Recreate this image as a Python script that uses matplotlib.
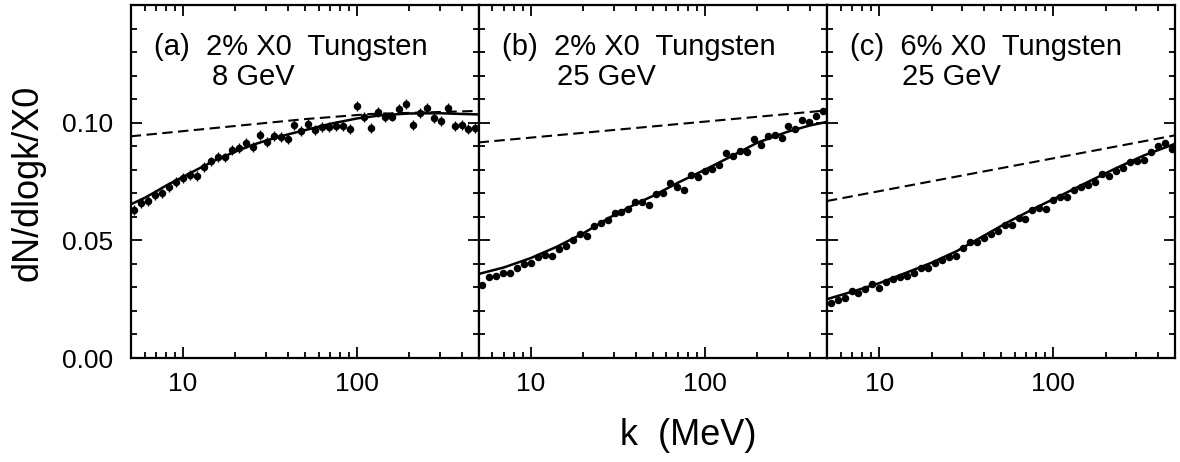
import numpy as np
import matplotlib
matplotlib.use('Agg')
import matplotlib.pyplot as plt
from matplotlib.ticker import FixedLocator, NullFormatter

plt.rcParams['font.family'] = ['Liberation Sans', 'DejaVu Sans']

# photon energy bins (MeV), shared by all three panels
k_bins = [5.25, 5.75, 6.31, 6.92, 7.59, 8.32, 9.12, 10.0, 10.96, 12.02,
          13.18, 14.45, 15.85, 17.38, 19.05, 20.89, 22.91, 25.12, 27.54, 30.20,
          33.11, 36.31, 39.81, 43.65, 47.86, 52.48, 57.54, 63.10, 69.18, 75.86,
          83.18, 91.20, 100.0, 109.6, 120.2, 131.8, 144.5, 158.5, 173.8, 190.5,
          208.9, 229.1, 251.2, 275.4, 302.0, 331.1, 363.1, 398.1, 436.5, 478.6]

# (a) 2% X0 W, 8 GeV
data_a = [0.0630, 0.0660, 0.0668, 0.0694, 0.0699, 0.0725, 0.0748, 0.0765, 0.0776, 0.0774,
          0.0810, 0.0835, 0.0854, 0.0852, 0.0884, 0.0892, 0.0912, 0.0898, 0.0948, 0.0916,
          0.0943, 0.0938, 0.0932, 0.0991, 0.0963, 0.0994, 0.0967, 0.0981, 0.0981, 0.0984,
          0.0986, 0.0972, 0.1072, 0.1024, 0.0979, 0.1047, 0.1024, 0.1026, 0.1060, 0.1080,
          0.0990, 0.1040, 0.1063, 0.1018, 0.1006, 0.1063, 0.0984, 0.0991, 0.0973, 0.0977]
err_a = 0.0021

# (b) 2% X0 W, 25 GeV
data_b = [0.0311, 0.0346, 0.0349, 0.0360, 0.0360, 0.0384, 0.0400, 0.0403, 0.0431, 0.0438,
          0.0435, 0.0463, 0.0477, 0.0502, 0.0526, 0.0520, 0.0559, 0.0573, 0.0587, 0.0618,
          0.0621, 0.0633, 0.0665, 0.0665, 0.0651, 0.0697, 0.0701, 0.0743, 0.0726, 0.0715,
          0.0779, 0.0767, 0.0793, 0.0804, 0.0821, 0.0871, 0.0857, 0.0881, 0.0875, 0.0932,
          0.0903, 0.0942, 0.0949, 0.0934, 0.0987, 0.0973, 0.1013, 0.1001, 0.1027, 0.1048]
err_b = 0.0009

# (c) 6% X0 W, 25 GeV
data_c = [0.0233, 0.0247, 0.0254, 0.0286, 0.0278, 0.0294, 0.0315, 0.0297, 0.0321, 0.0336,
          0.0346, 0.0350, 0.0363, 0.0384, 0.0381, 0.0403, 0.0417, 0.0428, 0.0435, 0.0467,
          0.0495, 0.0491, 0.0509, 0.0528, 0.0540, 0.0566, 0.0566, 0.0594, 0.0590, 0.0630,
          0.0637, 0.0633, 0.0670, 0.0686, 0.0684, 0.0715, 0.0726, 0.0736, 0.0746, 0.0782,
          0.0774, 0.0793, 0.0807, 0.0831, 0.0838, 0.0843, 0.0874, 0.0899, 0.0913, 0.0888]
err_c = 0.0007

# solid curves (calculation), read at a few k values
fit_k_a = [5, 6, 7, 8, 10, 13, 16, 20, 25, 30, 40, 50, 70, 100, 140, 200, 300, 400, 500]
fit_a = [0.0653, 0.0680, 0.0708, 0.0733, 0.0770, 0.0814, 0.0847, 0.0877, 0.0905, 0.0924,
         0.0950, 0.0968, 0.0995, 0.1018, 0.1032, 0.1039, 0.1040, 0.1037, 0.1035]
fit_k_b = [5, 7, 10, 14, 20, 28, 40, 50, 70, 100, 140, 200, 300, 400, 500]
fit_b = [0.0357, 0.0385, 0.0425, 0.0472, 0.0530, 0.0595, 0.0655, 0.0688, 0.0745, 0.0800,
         0.0855, 0.0915, 0.0962, 0.0988, 0.1003]
fit_k_c = [5, 7, 10, 14, 20, 28, 40, 55, 80, 110, 160, 230, 330, 500]
fit_c = [0.0250, 0.0282, 0.0318, 0.0360, 0.0405, 0.0455, 0.0520, 0.0578, 0.0640, 0.0690,
         0.0750, 0.0807, 0.0860, 0.0910]

# dashed curves (no LPM suppression)
bh_k_a = [5, 50, 120, 500]
bh_a = [0.0942, 0.1015, 0.1037, 0.1050]
bh_k_b = [5, 500]
bh_b = [0.0916, 0.1052]
bh_k_c = [5, 500]
bh_c = [0.0667, 0.0946]

labels = [('(a)  2% X0  Tungsten', '8 GeV'),
          ('(b)  2% X0  Tungsten', '25 GeV'),
          ('(c)  6% X0  Tungsten', '25 GeV')]
second_x = [0.234, 0.225, 0.216]

panels = [(data_a, err_a, fit_k_a, fit_a, bh_k_a, bh_a),
          (data_b, err_b, fit_k_b, fit_b, bh_k_b, bh_b),
          (data_c, err_c, fit_k_c, fit_c, bh_k_c, bh_c)]

fig = plt.figure(figsize=(11.8, 4.62), dpi=100)
lefts = [0.1108, 0.4056, 0.7008]

for i, (vals, err, fk, fv, bk, bv) in enumerate(panels):
    ax = fig.add_axes([lefts[i], 0.2251, 0.2949, 0.7641])
    ax.errorbar(k_bins, vals, yerr=err, fmt='o', color='black', ms=4.4,
                elinewidth=1.0, capsize=0, zorder=3)
    ax.plot(fk, fv, '-', color='black', lw=1.8, zorder=2)
    ax.plot(bk, bv, '--', color='black', lw=1.5, dashes=(5, 2.6), zorder=2)

    ax.set_xscale('log')
    ax.set_xlim(5, 500)
    ax.set_ylim(0, 0.15)
    ax.xaxis.set_major_locator(FixedLocator([10, 100]))
    ax.xaxis.set_minor_locator(FixedLocator([6, 7, 8, 9, 20, 30, 40, 50, 60, 70, 80, 90,
                                             200, 300, 400]))
    ax.xaxis.set_minor_formatter(NullFormatter())
    ax.set_xticklabels(['10', '100'])
    ax.yaxis.set_major_locator(FixedLocator([0.0, 0.05, 0.10]))
    ax.yaxis.set_minor_locator(FixedLocator([0.01, 0.02, 0.03, 0.04, 0.06, 0.07, 0.08,
                                             0.09, 0.11, 0.12, 0.13, 0.14]))
    if i == 0:
        ax.set_yticklabels(['0.00', '0.05', '0.10'])
    else:
        ax.set_yticklabels([])
    ax.tick_params(which='both', direction='in', top=True, right=True, width=1.3,
                   labelsize=19)
    ax.tick_params(axis='x', which='both', pad=10)
    ax.tick_params(axis='y', which='both', pad=13)
    ax.tick_params(which='major', length=8)
    ax.tick_params(which='minor', length=4.5)
    for sp in ax.spines.values():
        sp.set_linewidth(1.6)

    ax.text(0.066, 0.858, labels[i][0], transform=ax.transAxes, fontsize=21)
    ax.text(second_x[i], 0.773, labels[i][1], transform=ax.transAxes, fontsize=21)

fig.text(0.024, 0.604, 'dN/dlogk/X0', rotation=90, ha='center', va='center', fontsize=26)
fig.text(0.583, 0.058, 'k  (MeV)', ha='center', va='center', fontsize=26)

fig.savefig('out.png', dpi=100)
